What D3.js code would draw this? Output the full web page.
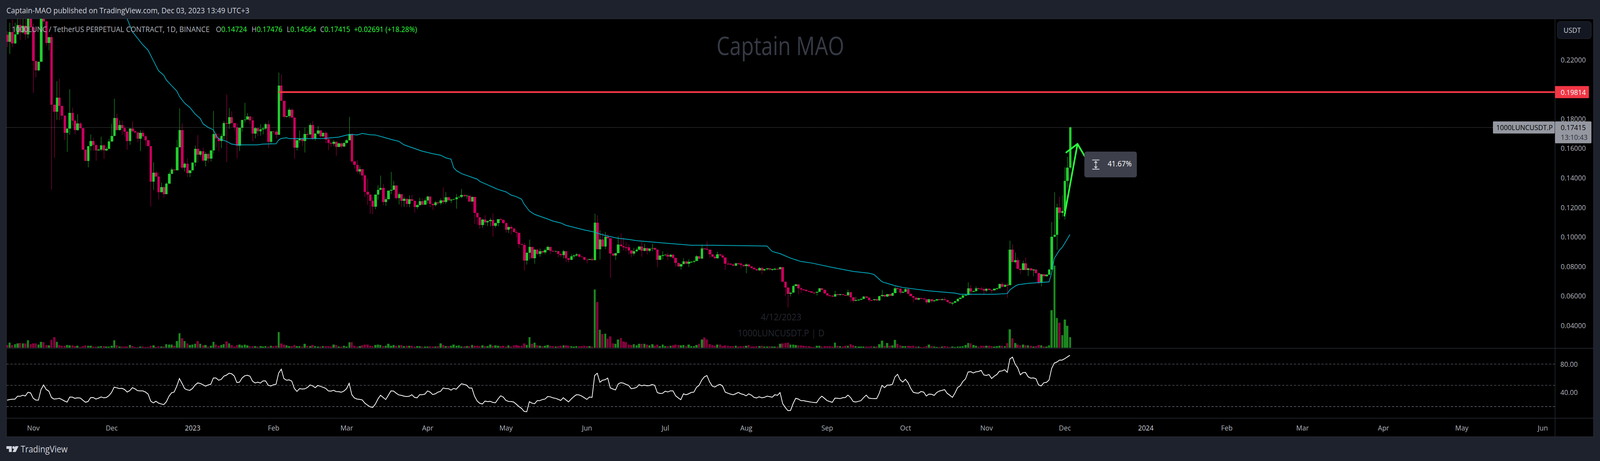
<!DOCTYPE html>
<html>
<head>
<meta charset="utf-8">
<script src="https://cdn.jsdelivr.net/npm/d3@7/dist/d3.min.js"></script>
<style>
html,body{margin:0;padding:0;background:#1e222d;width:100%;height:100%;overflow:hidden;}
#chart{width:100%;height:100%;}
svg{display:block;width:100vw;height:100vh;}
text{font-family:"Open Sans","Noto Sans",sans-serif;}
</style>
</head>
<body>
<div id="chart"></div>
<script>
// ---- values; prices in thousandths of USDT ----
const firstDay = "2022-10-22";
const lastDay = "2023-12-03";
const firstOpen = 236.9;
const closes = [
232.1,238.9,231.0,237.1,243.5,238.4,242.9,237.1,249.0,242.0,
219.3,212.9,218.6,251.7,245.9,231.4,235.4,189.5,184.9,194.4,
188.9,182.3,170.5,173.4,184.0,178.7,172.5,176.9,173.6,159.1,
151.6,161.5,165.0,162.4,158.5,159.1,162.0,158.5,159.7,164.6,
168.3,180.5,172.5,175.8,173.6,171.4,165.0,173.4,171.7,170.7,
166.6,170.5,168.1,165.4,161.5,137.5,143.5,141.0,130.2,133.7,
129.1,136.1,142.8,145.6,145.2,160.7,172.5,147.0,149.6,143.2,
145.1,150.4,159.7,155.8,158.0,151.8,156.2,153.1,158.6,169.7,
166.8,165.1,168.3,177.2,176.7,181.1,177.2,174.3,161.7,173.9,
179.2,179.6,181.6,179.1,170.1,173.6,171.7,172.9,173.4,176.3,
164.5,171.6,171.2,169.2,202.6,192.1,181.3,181.8,186.1,180.9,
160.4,165.4,166.8,165.1,169.7,169.5,175.8,166.6,170.1,172.0,
168.2,170.5,166.0,163.7,163.0,164.4,161.0,163.5,161.3,163.7,
165.4,169.7,151.1,148.9,144.4,146.0,141.7,130.6,128.8,124.5,
120.5,128.7,131.9,133.2,123.7,125.6,131.3,131.9,134.8,126.4,
129.0,124.5,125.8,122.4,125.6,124.5,120.3,121.6,124.3,121.9,
124.8,127.4,122.4,121.6,123.5,122.9,124.8,123.7,126.9,124.8,
125.3,125.6,126.9,127.2,128.5,127.7,128.0,124.0,127.2,116.3,
113.4,108.1,111.8,110.0,110.8,111.5,107.6,109.4,112.1,111.6,
109.4,104.9,106.8,105.7,103.3,102.9,95.1,94.6,84.0,89.3,
93.3,85.6,91.4,88.5,90.4,89.6,91.2,93.3,90.6,90.1,
90.4,88.5,87.7,90.4,85.6,84.6,86.9,87.5,88.3,86.7,
86.4,84.6,84.5,85.1,84.3,109.7,91.7,98.3,93.6,100.2,
99.1,88.8,87.5,89.1,94.9,93.8,93.0,92.9,90.9,88.8,
90.4,91.4,93.6,90.6,92.5,90.6,92.2,92.5,91.4,84.6,
87.5,87.7,88.0,86.7,88.0,85.9,82.5,80.1,81.7,83.5,
81.9,83.1,83.2,83.8,86.9,85.4,92.2,92.0,91.4,88.3,
86.7,85.6,88.2,87.4,86.1,81.9,81.8,81.3,80.5,82.1,
81.9,81.1,80.3,81.3,80.0,79.0,78.2,77.4,79.0,77.4,
78.2,78.7,77.9,78.2,78.4,78.2,79.5,69.7,65.7,61.5,
62.3,66.8,67.8,65.2,64.4,64.3,63.3,63.2,62.3,62.2,
62.8,65.2,64.1,61.8,60.4,60.3,59.6,61.2,60.7,61.2,
60.7,60.6,62.5,59.1,56.7,57.3,57.5,58.1,59.6,58.8,
57.3,57.2,57.8,57.0,59.9,60.7,59.6,61.2,60.2,62.0,
65.2,64.9,62.3,62.8,64.7,61.5,59.9,58.8,57.5,58.6,
58.3,57.8,55.7,57.8,56.5,57.0,57.8,57.5,57.8,57.3,
55.9,55.1,55.4,56.5,58.1,58.8,60.4,60.7,65.2,63.1,
63.3,65.2,64.9,64.8,63.6,64.9,64.1,63.9,64.9,65.2,
68.1,66.3,67.6,67.3,91.4,82.9,84.2,78.4,77.6,82.1,
77.6,78.7,77.4,77.9,75.5,69.2,74.7,73.4,74.5,77.9,
100.1,101.4,120.0,116.3,117.6,138.0,147.1,174.15];
// upper wick above the body
const wickUp = [
2.5,6.2,8.4,7.9,4.2,4.2,4.9,4.9,2.6,1.8,
2.6,0,0,1.8,1.8,.9,0,1.8,0,11,
12.7,0,0,0,16,3.5,.9,6.3,.9,0,
0,0,4.4,2.2,0,.9,5.9,.9,1.3,1.8,
8.4,13.2,3.1,3.1,3.1,1.8,.4,.4,4.9,.9,
0,1.8,1.8,1.3,.4,0,7.1,1.3,2.6,3.1,
.9,.9,1.3,1.3,0,5.1,14.6,4.4,.9,3.5,
0,0,2.2,9.3,.7,2.6,1.3,.9,0,15.6,
1.3,3.1,1.8,1.3,19.4,6.2,4,0,2.6,0,
0,11.2,2.2,0,2.2,.9,.4,3.5,1.3,.9,
2.6,0,.4,1.3,8.7,7.5,0,0,1.3,1.1,
0,1.8,5.3,.9,4.4,1.8,1.3,2.6,.4,3.1,
.4,.4,.9,1.3,.9,1.3,.4,.4,.4,.4,
.9,11.6,.4,0,3.1,1.8,0,.9,8.8,0,
2.4,0,3.1,8.4,2.6,1.3,0,12.2,3.1,.4,
1.1,0,1.3,.4,2.6,2.9,0,.9,2.2,1.8,
1.3,.5,0,.4,.9,.3,1.3,8.8,3.5,.4,
.4,.3,2.2,.3,4,.4,.9,0,0,0,
0,0,.4,3.1,.4,1.3,4.4,.4,0,.9,
.4,.4,.4,1.3,.4,1.3,0,.9,1.3,.4,
4.9,0,.4,.9,1.8,.4,.9,.9,0,0,
.4,.4,.4,.9,0,.4,1.3,.9,.9,.4,
.4,0,.9,0,1.3,6,5,6.2,4.4,3.1,
1.6,0,0,0,5.7,7.5,5.7,3.5,2.2,0,
2.2,1.3,0,3.1,2.9,.4,0,2.9,.4,0,
0,2.6,.4,1.3,.4,.4,0,0,0,2.2,
0,1.8,.4,.4,.9,0,2.6,0,4.9,0,
0,.9,1.8,.3,.9,0,1.8,.3,.4,.4,
.4,.9,.3,.9,.4,.4,.9,.3,.7,.9,
.3,.3,.3,.3,.9,.3,.4,.3,0,0,
0,.9,.5,.3,.9,.4,.3,.3,.3,.3,
.3,.3,.4,.3,.3,.3,.3,2.4,.3,.3,
.3,.3,1.8,.3,.3,2.2,.3,.3,.3,.3,
.3,.3,.3,.3,.3,3.5,.3,.3,.4,.4,
1.3,.9,.3,.4,.7,.3,.3,.3,.3,.4,
.3,.3,.3,.3,.3,.3,.3,.3,.7,1.3,
.3,.3,.3,.3,.3,.4,.7,.4,4.1,2.2,
.3,1.3,.4,1.3,1.1,.3,.3,.3,.3,.4,
.4,1.3,.3,1.3,6.1,3.7,5.3,1.8,.3,1.8,
4,.3,.3,.3,.3,.3,.3,.3,.3,.9,
10,28.9,2.5,7.4,10.7,9.2,7.1,.6];
// lower wick below the body
const wickDown = [
3.5,8.2,2.4,.4,0,4.9,.9,3.5,2.6,2.6,
21.7,4.9,.7,0,1.8,1.9,5,57.3,31.3,5.6,
10,2.6,4.9,12.8,4.2,3.5,3.1,.6,.4,0,
0,4.4,3.1,4,6.9,0,.9,5.6,.4,0,
.4,0,.4,.4,4.4,3.7,5.9,2.6,.9,.9,
2.5,8.4,.4,4,0,16.8,5.7,0,4.7,0,
2.6,0,.4,0,0,0,0,1.3,2.6,2.6,
2.6,0,2.6,5.3,1.3,.9,4,2.6,1.9,2.2,
6.2,7.1,4.9,2.2,26,3.5,.4,2.2,8.4,3.5,
2.6,1.8,0,2.6,5.3,3.3,3.5,3.1,3.5,.9,
4.4,1.3,1.3,2.6,0,0,.9,.4,1.3,0,
7.5,1.8,1.8,3.5,7.9,2.6,.4,.9,1.3,.9,
.9,.4,2.6,4.9,1.8,1.3,6,.4,1.3,.4,
.4,0,.9,2.6,1.3,1.9,3.1,3.5,7.1,8.8,
5,1.6,3.5,0,2.2,2.6,0,2.2,0,1.1,
4.4,4.2,4,2.2,2.2,0,3.7,1.3,.4,0,
0,2.2,2.2,3.3,.9,.9,1.3,1.3,1.3,0,
1.8,.4,6.4,.4,.9,.7,1.8,.4,0,7.5,
4.9,2.4,1.8,2.2,2.6,3.5,7.4,1.3,2.2,.4,
.4,1.9,2.2,4,0,3.1,2.6,0,6.6,2.6,
4.4,0,3.7,.9,1.8,1.3,1.3,.4,2.2,0,
.4,2.2,1.3,2.2,2.6,1.8,.4,1.3,.9,.9,
0,.4,2.4,0,.4,0,0,6.9,0,1.8,
0,16.4,.7,3.1,0,.4,2.2,2.6,2.6,2.5,
1.3,.9,.4,4.1,.4,2.4,.9,1.8,0,5,
.4,2.6,.4,2.4,.4,.9,2.6,.4,2.2,0,
.4,2.2,.4,.9,0,.4,0,.4,.4,2.6,
.4,.4,.3,.3,.9,4.2,.3,.3,.4,.4,
.7,2.4,.7,4.9,.3,.4,.3,.4,.3,2.6,
.4,.7,.7,.7,.9,.4,.3,.3,5.7,9.3,
1.8,0,.3,4,2.2,.3,.4,.4,.3,.4,
1.8,0,.3,.4,.7,.4,.4,.3,.4,.3,
.3,.3,.3,3.1,1.3,.3,.4,.4,.3,.3,
1.3,.3,.4,.3,.4,.4,.3,.4,.3,.3,
.3,.3,1.1,.3,.3,.3,.3,3.2,.3,.3,
.3,.3,1.2,.3,1.1,.3,.3,.3,.3,.3,
.3,.7,1.3,.3,.3,.3,.3,.3,.3,2.6,
.3,.3,.3,.3,2.8,.9,.3,1.9,.3,.3,
.3,.3,.3,8.6,0,0,.4,.3,2.6,0,
.3,4,.3,4,.3,1.3,2.6,.3,.3,.3,
0,.3,10,4.4,2.5,5.7,4.7,1.4];
const volumes = [
20,39,20,26,33,35,33,33,57,26,
33,33,23,44,42,21,18,60,81,44,
21,14,14,21,18,18,12,14,5,12,
18,14,14,9,9,9,12,12,9,9,
14,57,18,9,9,9,9,21,12,5,
5,9,9,5,5,14,18,5,12,9,
9,26,23,23,14,52,110,73,52,33,
21,23,30,52,30,18,21,9,14,44,
23,14,21,26,49,33,21,9,21,23,
18,23,18,12,12,12,9,12,9,12,
9,16,13,14,121,33,23,18,12,12,
21,12,12,9,30,14,12,21,12,9,
9,12,12,12,9,23,21,9,9,14,
9,42,42,14,9,12,18,24,24,15,
12,21,24,21,12,15,30,15,21,15,
18,21,12,15,15,15,9,12,12,9,
9,9,12,9,9,12,33,21,12,12,
15,24,15,18,9,12,12,12,21,15,
15,12,18,12,12,24,15,18,15,12,
15,9,18,9,18,21,15,15,33,21,
81,30,39,18,15,12,15,21,15,12,
9,12,15,18,18,15,12,9,12,12,
12,15,12,12,9,447,351,138,105,108,
69,87,33,30,63,75,48,42,24,21,
27,18,30,30,30,24,18,27,15,24,
12,24,12,12,15,18,24,21,18,21,
12,24,12,12,21,30,63,78,63,27,
21,15,24,24,12,18,15,12,12,15,
9,12,12,15,21,9,9,12,12,15,
9,9,12,9,9,9,30,33,36,39,
24,24,21,18,18,15,12,12,6,6,
15,15,9,12,12,12,9,39,15,12,
9,15,15,27,18,12,9,9,9,9,
9,12,9,9,27,54,15,36,15,18,
60,30,18,12,12,15,12,15,9,9,
6,6,12,24,12,9,6,6,9,12,
9,6,9,6,9,9,12,21,36,33,
21,15,9,15,15,15,15,12,9,12,
15,15,12,36,141,72,36,24,18,24,
18,18,15,9,12,21,18,9,9,18,
288,630,228,192,96,216,168,81];
const rsi = [
29.0,29.9,30.4,30.4,34.5,34.5,35.9,35.0,40.2,39.3,
31.8,29.2,29.0,44.1,50.5,44.1,41.7,32.8,30.6,30.9,
31.6,29.9,27.8,26.3,33.5,33.3,31.6,32.3,32.1,29.0,
26.1,27.1,32.6,32.8,30.6,31.8,33.5,32.3,32.8,35.4,
39.8,47.4,46.5,45.5,45.7,44.1,40.5,42.6,46.7,45.0,
42.4,42.1,42.1,40.5,37.6,27.8,25.1,27.5,24.9,23.7,
22.7,26.8,34.5,39.5,40.5,48.9,59.6,52.7,45.3,43.6,
42.9,45.5,50.5,53.4,52.7,50.8,48.9,50.5,51.5,60.4,
60.4,57.2,58.4,63.0,64.4,67.1,66.3,63.2,53.9,54.4,
60.4,63.5,64.2,63.0,55.8,53.4,54.4,53.2,56.3,56.3,
50.1,49.1,50.8,51.5,67.3,72.8,59.6,57.2,57.7,56.0,
45.7,41.4,45.3,44.8,45.0,46.9,50.5,49.3,46.7,49.8,
48.6,47.2,45.7,42.1,41.7,42.9,41.2,41.0,40.2,41.9,
45.3,52.9,36.9,32.1,30.6,30.1,29.4,24.8,22.0,19.6,
18.7,23.3,30.6,36.0,32.9,29.9,36.0,42.1,41.9,38.9,
36.4,35.8,34.7,34.1,34.5,36.7,33.0,32.3,36.7,36.7,
37.6,42.1,40.4,36.9,38.0,40.4,41.5,46.3,45.4,45.4,
43.2,45.6,44.5,48.5,52.2,51.3,50.2,46.1,46.1,34.7,
27.9,24.6,23.6,27.7,27.0,27.3,25.9,25.3,30.6,35.2,
33.4,28.8,27.3,27.1,26.4,23.3,20.0,17.4,13.1,12.6,
26.8,24.8,24.0,28.3,28.3,29.9,30.6,34.1,33.8,32.3,
31.6,30.3,28.6,32.5,29.4,26.6,30.5,34.0,36.7,36.5,
34.9,32.5,30.1,33.4,32.9,63.8,67.1,54.4,57.3,57.9,
60.3,46.3,44.8,43.5,51.8,53.8,53.1,51.3,50.0,45.2,
45.9,46.9,50.9,49.4,50.3,49.4,49.6,51.1,50.0,39.7,
38.6,38.7,41.7,40.6,42.2,42.1,35.2,32.3,29.7,38.0,
36.7,38.0,39.9,40.4,47.2,50.0,57.3,62.0,63.8,55.1,
49.1,47.6,50.0,51.3,48.9,40.4,38.9,37.6,36.7,38.0,
40.0,38.0,37.1,35.2,38.0,36.2,33.0,32.1,33.8,32.3,
33.0,34.7,34.0,33.2,36.7,35.8,39.7,24.2,18.7,14.2,
14.4,24.2,31.7,30.6,28.3,28.3,27.5,26.8,26.2,25.7,
25.5,31.2,34.7,31.6,28.4,27.1,26.0,31.9,31.6,31.2,
32.5,32.7,36.2,32.7,27.1,26.4,27.3,28.4,32.7,36.2,
31.9,31.4,31.2,31.2,38.9,50.0,46.7,50.3,50.3,51.3,
61.9,65.6,57.7,54.6,58.6,53.7,45.9,40.2,39.3,38.9,
41.3,40.4,34.9,37.6,37.3,35.8,39.9,41.9,42.8,43.9,
38.6,36.0,33.0,39.3,46.9,49.4,55.5,59.0,68.8,69.3,
67.5,69.1,69.5,71.2,64.7,64.0,65.3,59.7,62.9,65.3,
69.9,70.4,72.1,68.4,87.2,89.9,80.0,74.7,64.9,68.0,
68.2,62.1,60.1,60.5,59.2,50.5,49.2,53.7,54.2,57.5,
73.9,81.5,82.9,85.7,85.7,87.6,90.1,92.5];
// moving-average line vertices: day number from firstDay, and value
const maDays = [46,47,48,50,52,54,56,58,60,61,63,65,66,68,70,72,74,75,77,79,80,81,84,86,88,96,98,103,104,105,107,108,114,121,127,130,132,134,136,139,141,144,147,150,152,159,163,166,168,170,171,172,174,180,181,184,188,191,193,195,197,198,200,202,207,209,212,214,221,225,227,230,234,238,241,251,262,270,291,293,296,300,304,308,316,324,330,332,335,340,343,353,363,365,378,383,384,386,387,391,399,400,401,403,404,405,407];
const maValues = [247.7,243.3,238.9,234.5,230.1,226.5,219.5,212.6,209.5,206.3,202.5,198.8,195.2,190.6,187.7,183.3,180.2,176.7,174.2,172.6,168.8,166.6,164.8,162.9,162.4,162.4,162.9,163.1,165.7,166.7,167.2,166.6,166.6,166.7,167.6,169.0,169.4,169.1,170.1,169.2,169.1,167.6,166.1,164.8,162.4,158.1,156.4,155.4,153.6,152.7,147.0,145.0,142.9,139.2,137.7,135.3,132.2,130.6,128.4,127.3,125.6,122.2,117.6,115.3,112.2,110.8,109.5,107.9,104.8,103.3,102.0,100.6,99.1,98.4,97.5,96.0,94.4,94.4,93.9,90.2,88.7,85.7,83.4,82.4,79.4,76.7,75.5,74.6,69.7,67.0,65.8,63.5,62.0,61.2,61.2,61.7,64.2,66.7,67.6,68.6,69.6,75.7,85.5,91.1,92.9,95.7,101.7];
const priceTicks = [220,180,160,140,120,100,80,60,40];
const rsiTicks = [80,40];
const rsiBands = [80,50,20];
const monthDates = ["2022-11-01","2022-12-01","2023-01-01","2023-02-01","2023-03-01","2023-04-01","2023-05-01","2023-06-01","2023-07-01","2023-08-01","2023-09-01","2023-10-01","2023-11-01","2023-12-01","2024-01-01","2024-02-01","2024-03-01","2024-04-01","2024-05-01","2024-06-01"];
const monthLabels = ["Nov","Dec","2023","Feb","Mar","Apr","May","Jun","Jul","Aug","Sep","Oct","Nov","Dec","2024","Feb","Mar","Apr","May","Jun"];
const resistance = 198.14;
const resistanceStartDay = 104;
const lastPrice = 174.15;
// hand-drawn arrow: day offset and price of its points
const arrowDays = [404.9,409.9];
const arrowPrices = [114.5,163.0];
const arrowHeadDays = [405.6,409.9,412.7];
const arrowHeadPrices = [157.3,163.0,154.6];
const legendParts = [["O","0.14724"],["H","0.17476"],["L","0.14564"],["C","0.17415"]];
const legendChange = "+0.02691 (+18.28%)";

// ---- layout and style ----
const W=4484,H=1180;
const plot={l:18,r:4358,t:48,b:1118,outer:4466,volBase:890,pane:891.6,time:1070.6};
const C={bg:"#1e222d",black:"#000",grid:"#2a2e39",up:"#22cb2e",down:"#c8005c",upV:"#1b861f",downV:"#85003c",ma:"#00bcd4",red:"#f23645",lab:"#b2b5be",green:"#2bff3c",pill:"#9598a1"};

const day = d => new Date(Date.parse(firstDay+"T00:00:00Z")+d*864e5);
const x = d3.scaleUtc().domain([new Date(firstDay+"T00:00:00Z"),new Date(lastDay+"T00:00:00Z")]).range([19.8,2998.5]);
const y = d3.scaleLinear().domain([220,40]).range([153,833.4]);
const yVol = d3.scaleLinear().domain([0,630]).range([plot.volBase,plot.volBase-210]);
const yRsi = d3.scaleLinear().domain([80,40]).range([932,1004.4]);

const opens = closes.map((c,i)=> i? closes[i-1]:firstOpen);
const candles = closes.map((c,i)=>({i,o:opens[i],c,h:Math.max(opens[i],c)+(wickUp[i]||0),l:Math.min(opens[i],c)-(wickDown[i]||0),v:volumes[i]||0,up:c>=opens[i]}));

const svg=d3.select("#chart").append("svg").attr("viewBox",`0 0 ${W} ${H}`).attr("preserveAspectRatio","none");
svg.append("rect").attr("width",W).attr("height",H).attr("fill",C.bg);
svg.append("rect").attr("x",plot.l).attr("y",plot.t).attr("width",plot.outer-plot.l).attr("height",plot.b-plot.t).attr("fill",C.black).attr("stroke",C.grid).attr("stroke-width",1.5);
svg.append("defs").append("clipPath").attr("id","pane").append("rect").attr("x",plot.l).attr("y",plot.t).attr("width",plot.r-plot.l).attr("height",plot.pane-plot.t);

// header
svg.append("text").attr("x",18).attr("y",34).attr("fill","#d1d4dc").attr("font-size",20.4).text("Captain-MAO published on TradingView.com, Dec 03, 2023 13:49 UTC+3");

// watermarks
svg.append("text").attr("x",2187).attr("y",141).attr("text-anchor","middle").attr("fill","#363a45").attr("font-size",66).attr("textLength",358).attr("lengthAdjust","spacingAndGlyphs").text("Captain MAO");
svg.append("text").attr("x",2189).attr("y",820).attr("text-anchor","middle").attr("fill","#24272f").attr("font-size",24).text("4/12/2023");
svg.append("text").attr("x",2189).attr("y",861).attr("text-anchor","middle").attr("fill","#24272f").attr("font-size",24).text("1000LUNCUSDT.P | D");

const g=svg.append("g").attr("clip-path","url(#pane)");

// volume
g.append("g").selectAll("rect").data(candles).join("rect")
 .attr("x",d=>Math.round(x(day(d.i))-3)).attr("width",6)
 .attr("y",d=>yVol(d.v)).attr("height",d=>yVol(0)-yVol(d.v))
 .attr("fill",d=>d.up?C.upV:C.downV).attr("shape-rendering","crispEdges");

// candles
g.append("g").selectAll("line").data(candles).join("line")
 .attr("x1",d=>Math.round(x(day(d.i)))+.5).attr("x2",d=>Math.round(x(day(d.i)))+.5)
 .attr("y1",d=>y(d.h)).attr("y2",d=>y(d.l))
 .attr("stroke",d=>d.up?C.up:C.down).attr("stroke-width",1).attr("shape-rendering","crispEdges");
g.append("g").selectAll("rect").data(candles).join("rect")
 .attr("x",d=>Math.round(x(day(d.i))-3)).attr("width",7)
 .attr("y",d=>y(Math.max(d.o,d.c))).attr("height",d=>Math.max(1.5,Math.abs(y(d.o)-y(d.c))))
 .attr("fill",d=>d.up?C.up:C.down).attr("shape-rendering","crispEdges");

// moving average
g.append("path").datum(maDays.map((d,i)=>[d,maValues[i]]))
 .attr("fill","none").attr("stroke",C.ma).attr("stroke-width",2).attr("stroke-opacity",.9)
 .attr("d",d3.line().x(d=>x(day(d[0]))).y(d=>y(d[1])));

// last-price dotted line
svg.append("line").attr("x1",plot.l).attr("x2",4184).attr("y1",y(lastPrice)).attr("y2",y(lastPrice))
 .attr("stroke","#a8abb3").attr("stroke-width",1).attr("stroke-dasharray","1.5 2.5");

// resistance line
svg.append("line").attr("x1",x(day(resistanceStartDay))).attr("x2",plot.r).attr("y1",y(resistance)).attr("y2",y(resistance))
 .attr("stroke",C.red).attr("stroke-width",4.5);

// arrow
const arrowLine=d3.line().x(d=>x(day(d[0]))).y(d=>y(d[1]));
const arrowG=svg.append("g").attr("fill","none").attr("stroke",C.green).attr("stroke-width",4.5).attr("stroke-linecap","round").attr("stroke-linejoin","round");
arrowG.append("path").attr("d",arrowLine(arrowDays.map((d,i)=>[d,arrowPrices[i]])));
arrowG.append("path").attr("d",arrowLine(arrowHeadDays.map((d,i)=>[d,arrowHeadPrices[i]])));

// measure tooltip
const tip=svg.append("g").attr("transform","translate(3039,388)");
tip.append("rect").attr("width",147).attr("height",66).attr("rx",6).attr("fill","#3d3f4b");
const ic=tip.append("g").attr("stroke","#d8d9de").attr("stroke-width",2).attr("fill","none");
ic.append("path").attr("d","M22 21.5H42M22 45H42M32 25V42M28 29l4-4 4 4M28 38l4 4 4-4");
tip.append("text").attr("x",65).attr("y",38).attr("fill","#fff").attr("font-size",20).text("41.67%");

// pane separators and axis rail
[plot.pane,plot.time].forEach(v=>svg.append("line").attr("x1",plot.l).attr("x2",plot.outer).attr("y1",v).attr("y2",v).attr("stroke",C.grid).attr("stroke-width",1.5));
svg.append("line").attr("x1",plot.r).attr("x2",plot.r).attr("y1",plot.t).attr("y2",plot.b).attr("stroke",C.grid).attr("stroke-width",1.5);

// RSI
svg.append("g").selectAll("line").data(rsiBands).join("line")
 .attr("x1",plot.l).attr("x2",plot.r).attr("y1",d=>yRsi(d)).attr("y2",d=>yRsi(d))
 .attr("stroke",(d,i)=>i==1?"#5d6069":"#787b86").attr("stroke-width",1.2).attr("stroke-dasharray","6.5 4.5");
svg.append("path").datum(rsi).attr("fill","none").attr("stroke","#fff").attr("stroke-width",2)
 .attr("d",d3.line().x((d,i)=>x(day(i))).y(d=>yRsi(d)));

// axes
const styleAxis=a=>{a.select(".domain").remove();a.selectAll("text").attr("fill",C.lab).attr("font-size",19).attr("font-family",'"Open Sans","Noto Sans",sans-serif');};
svg.append("g").attr("transform",`translate(${plot.r},0)`)
 .call(d3.axisRight(y).tickValues(priceTicks).tickSize(0).tickPadding(16).tickFormat(d=>(d/1000).toFixed(5))).call(styleAxis);
svg.append("g").attr("transform",`translate(${plot.r},0)`)
 .call(d3.axisRight(yRsi).tickValues(rsiTicks).tickSize(0).tickPadding(15).tickFormat(d=>d.toFixed(2))).call(styleAxis);
const xAxis=svg.append("g").attr("transform",`translate(0,${plot.time})`)
 .call(d3.axisBottom(x).tickValues(monthDates.map(d=>new Date(d+"T00:00:00Z"))).tickSize(0).tickPadding(18).tickFormat((d,i)=>monthLabels[i])).call(styleAxis);
xAxis.selectAll("text").filter(function(){return /^20/.test(this.textContent);}).attr("fill","#d1d4dc");

// legend
const legendY=82;
svg.append("text").attr("x",33).attr("y",legendY).attr("fill",C.lab).attr("font-size",20).text("1000LUNC / TetherUS PERPETUAL CONTRACT, 1D, BINANCE");
const legendX=[605,705,803.6,897];
legendParts.forEach((p,i)=>{
 const t=svg.append("text").attr("x",legendX[i]).attr("y",legendY).attr("font-size",19.5);
 t.append("tspan").attr("fill",C.lab).text(p[0]);
 t.append("tspan").attr("fill",C.green).text(p[1]);
});
svg.append("text").attr("x",992).attr("y",legendY).attr("fill",C.green).attr("font-size",19.5).text(legendChange);

// USDT button
svg.append("rect").attr("x",4364.5).attr("y",55).attr("width",95).attr("height",44).attr("rx",8).attr("fill","#131722").attr("stroke",C.grid).attr("stroke-width",1.2);
svg.append("text").attr("x",4382).attr("y",84).attr("fill","#d1d4dc").attr("font-size",19).text("USDT");

// price tags
const redTag=svg.append("g");
redTag.append("rect").attr("x",plot.r).attr("y",y(resistance)-15.5).attr("width",95).attr("height",31).attr("rx",2).attr("fill",C.red);
redTag.append("text").attr("x",4374).attr("y",y(resistance)+7).attr("fill","#fff").attr("font-size",19).text((resistance/1000).toFixed(5));
svg.append("rect").attr("x",4184).attr("y",y(lastPrice)-15.5).attr("width",173).attr("height",31).attr("rx",2).attr("fill",C.pill);
svg.append("text").attr("x",4193).attr("y",y(lastPrice)+7).attr("fill","#000").attr("font-size",19).text("1000LUNCUSDT.P");
svg.append("rect").attr("x",plot.r).attr("y",y(lastPrice)-15.5).attr("width",102).attr("height",56).attr("rx",2).attr("fill",C.pill);
svg.append("text").attr("x",4374).attr("y",y(lastPrice)+7).attr("fill","#000").attr("font-size",19).text((lastPrice/1000).toFixed(5));
svg.append("text").attr("x",4374).attr("y",y(lastPrice)+32).attr("fill","#2a2e39").attr("font-size",19).text("13:10:43");

// footer logo
const logo=svg.append("g").attr("fill","#d1d4dc");
logo.append("path").attr("d","M18 1142H33V1157H25V1149H18Z");
logo.append("circle").attr("cx",38).attr("cy",1145.5).attr("r",3.5);
logo.append("path").attr("d","M43 1142H52L44 1157H35Z");
svg.append("text").attr("x",58).attr("y",1158).attr("fill","#d1d4dc").attr("font-size",23).text("TradingView");
</script>
</body>
</html>
